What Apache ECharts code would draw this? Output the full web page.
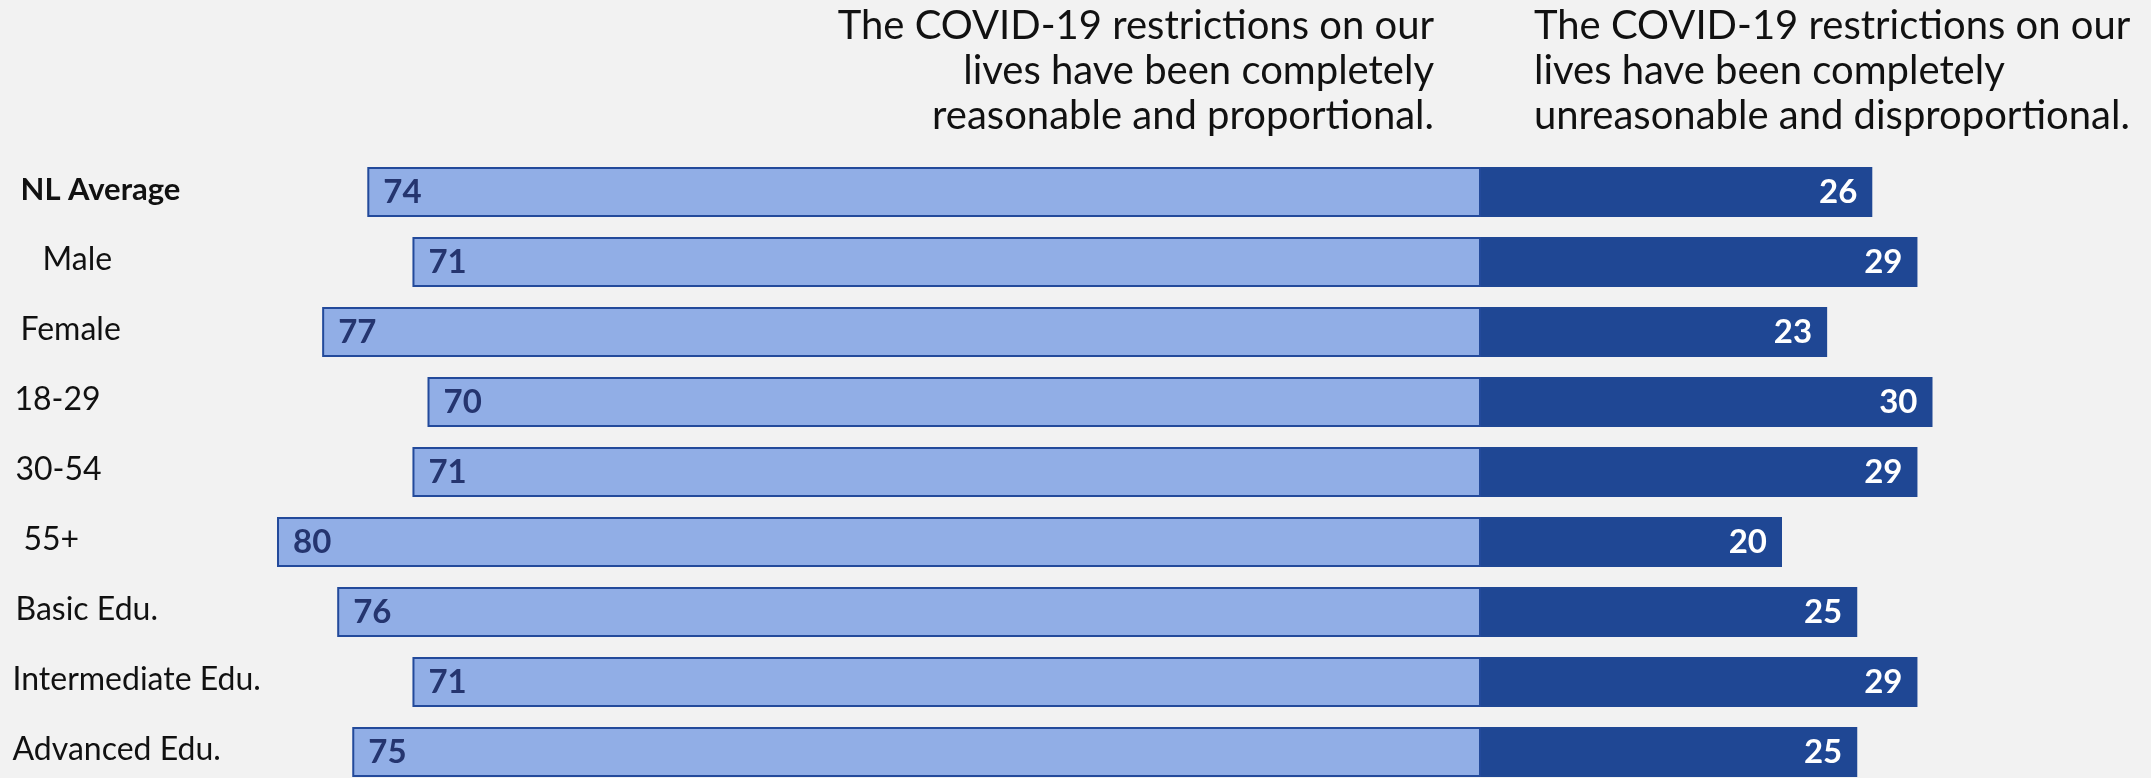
<!DOCTYPE html>
<html>
<head>
<meta charset="utf-8">
<script src="https://cdn.jsdelivr.net/npm/echarts@6/dist/echarts.min.js"></script>
<style>
  html, body { margin: 0; padding: 0; background: #f2f2f2; }
  #chart { width: 2151px; height: 778px; }
</style>
</head>
<body>
<div id="chart"></div>
<script>
// groups, top to bottom
const categories = [
  'NL Average', 'Male', 'Female', '18-29', '30-54', '55+',
  'Basic Edu.', 'Intermediate Edu.', 'Advanced Edu.'
]
// % "completely reasonable and proportional"
const reasonable = [74, 71, 77, 70, 71, 80, 76, 71, 75]
// % "completely unreasonable and disproportional"
const unreasonable = [26, 29, 23, 30, 29, 20, 25, 29, 25]

const leftTitle = 'The COVID-19 restrictions on our\nlives have been completely\nreasonable and proportional.'
const rightTitle = 'The COVID-19 restrictions on our\nlives have been completely\nunreasonable and disproportional.'

// the source labels are not quite lined up, small left indents (px)
const labelIndent = [8, 30, 8, 2, 3, 11, 3, 0, 0]

const chart = echarts.init(document.getElementById('chart'), null, { renderer: 'canvas' })

const textFont = 'Lato, "Noto Sans", sans-serif'

const option = {
  backgroundColor: '#f2f2f2',
  animation: false,
  grid: { left: 126.5, top: 157, width: 1956.5, height: 630, outerBoundsMode: 'none' },
  xAxis: {
    type: 'value',
    min: -90,
    max: 40,
    show: false
  },
  yAxis: {
    type: 'category',
    inverse: true,
    data: categories.map((c, i) => ({
      value: c,
      textStyle: { align: 'left', padding: [0, 0, 4, labelIndent[i]] }
    })),
    axisLine: { show: false },
    axisTick: { show: false },
    axisLabel: {
      align: 'left',
      margin: 114,
      fontFamily: textFont,
      fontSize: 32,
      color: '#111',
      formatter: function (v) {
        return v === 'NL Average' ? '{b|' + v + '}' : v
      },
      rich: {
        b: { fontFamily: textFont, fontSize: 31, fontWeight: 'bold', color: '#111' }
      }
    }
  },
  series: [
    {
      name: 'reasonable',
      type: 'bar',
      barWidth: 50,
      barGap: '-100%',
      data: reasonable.map(v => -v),
      itemStyle: { color: '#91aee6', borderColor: '#234a9b', borderWidth: 2 },
      label: {
        show: true,
        position: 'insideLeft',
        distance: 16,
        fontFamily: textFont,
        fontWeight: 'bold',
        fontSize: 33,
        color: '#25356f',
        formatter: p => Math.abs(p.value)
      },
      z: 2
    },
    {
      name: 'unreasonable',
      type: 'bar',
      barWidth: 50,
      data: unreasonable,
      itemStyle: { color: '#1f4794' },
      label: {
        show: true,
        position: 'insideRight',
        distance: 15,
        fontFamily: textFont,
        fontWeight: 'bold',
        fontSize: 33,
        color: '#ffffff'
      },
      z: 3
    }
  ],
  graphic: [
    {
      type: 'text',
      x: 1434,
      y: 4,
      style: {
        text: leftTitle,
        textAlign: 'right',
        textVerticalAlign: 'top',
        fontFamily: textFont,
        fontSize: 40,
        lineHeight: 45,
        fill: '#111'
      }
    },
    {
      type: 'text',
      x: 1534,
      y: 4,
      style: {
        text: rightTitle,
        textAlign: 'left',
        textVerticalAlign: 'top',
        fontFamily: textFont,
        fontSize: 40,
        lineHeight: 45,
        fill: '#111'
      }
    }
  ]
}

chart.setOption(option)
</script>
</body>
</html>
